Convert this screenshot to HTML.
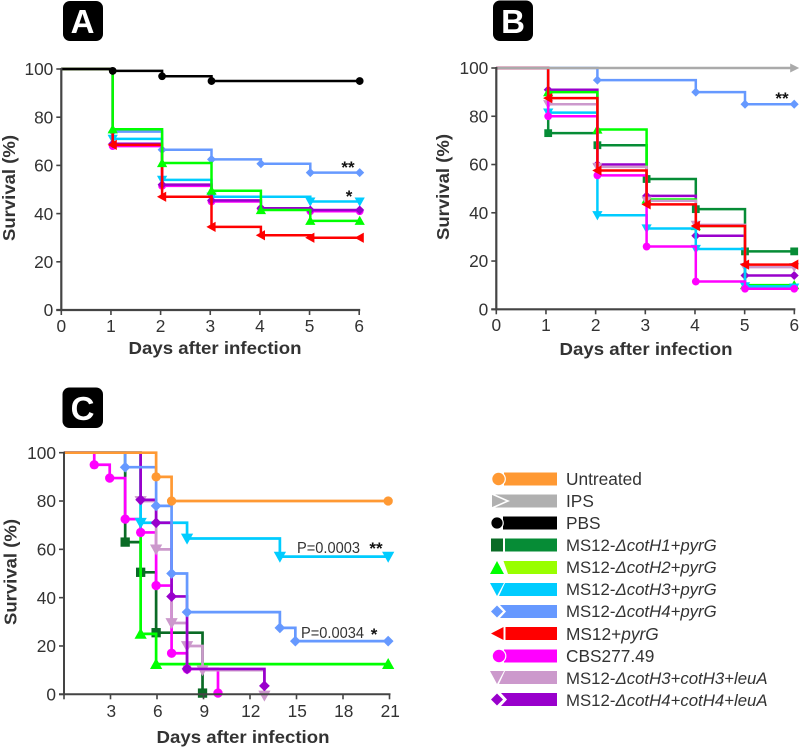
<!DOCTYPE html>
<html lang="en">
<head>
<meta charset="utf-8">
<title>Survival curves</title>
<style>
html,body{margin:0;padding:0;background:#fff;}
svg{display:block;font-family:"Liberation Sans",sans-serif;}
.tick{font-size:17.3px;fill:#333;}
.axt{font-size:17.5px;font-weight:bold;fill:#333;}
.leg{font-size:17.3px;fill:#333;}
.leg-long{font-size:16.8px;}
.note{font-size:15.5px;fill:#333;}
.star{font-size:17px;font-weight:bold;fill:#111;}
.badge{font-size:33px;font-weight:bold;fill:#fff;}
</style>
</head>
<body>
<svg id="fig" xmlns="http://www.w3.org/2000/svg" width="800" height="747" viewBox="0 0 800 747">
  <rect width="800" height="747" fill="#fff"/>
  <g><rect x="63" y="1" width="40" height="40" rx="7" fill="#000"/><text class="badge" x="82.5" y="33" text-anchor="middle">A</text></g>
  <g><rect x="493" y="0.5" width="40" height="40.5" rx="7" fill="#000"/><text class="badge" x="513" y="33" text-anchor="middle">B</text></g>
  <g><rect x="62.5" y="387.5" width="40.5" height="40.5" rx="7" fill="#000"/><text class="badge" x="82.5" y="420" text-anchor="middle">C</text></g>

  <g id="plots"></g>

  <text class="star" x="348" y="173" text-anchor="middle">**</text>
  <text class="star" x="349" y="202" text-anchor="middle">*</text>
  <text class="star" x="782" y="104" text-anchor="middle">**</text>
  <text class="note" x="297" y="553" textLength="63" lengthAdjust="spacingAndGlyphs">P=0.0003</text>
  <text class="star" x="376" y="554" text-anchor="middle">**</text>
  <text class="note" x="301" y="638" textLength="63" lengthAdjust="spacingAndGlyphs">P=0.0034</text>
  <text class="star" x="374" y="640" text-anchor="middle">*</text>

  <g>
    <g><rect x="504" y="472.5" width="53" height="13" fill="#ff9933"/><circle cx="498.5" cy="479" r="6.8" fill="#ff9933" stroke="#fff" stroke-width="1.2"/><text class="leg" x="566" y="485">Untreated</text></g>
    <g><rect x="492" y="494.5" width="65" height="13" fill="#b0b0b0"/><polyline points="492,494 508,501 492,508" fill="none" stroke="#fff" stroke-width="1.6"/><text class="leg" x="566" y="507">IPS</text></g>
    <g><rect x="503" y="516.5" width="54" height="13" fill="#000"/><circle cx="497" cy="523" r="6.2" fill="#000" stroke="#fff" stroke-width="1.2"/><text class="leg" x="566" y="529">PBS</text></g>
    <g><rect x="491" y="538.5" width="12" height="13" fill="#0a6b25"/><rect x="505" y="538.5" width="52" height="13" fill="#068c36"/><text class="leg leg-long" x="566" y="551">MS12-<tspan font-style="italic">ΔcotH1+pyrG</tspan></text></g>
    <g><polygon points="503.5,561 557,561 557,574 508,574" fill="#99ff00"/><polygon points="497,561 504,574 490,574" fill="#00ff00"/><text class="leg leg-long" x="566" y="573">MS12-<tspan font-style="italic">ΔcotH2+pyrG</tspan></text></g>
    <g><polygon points="505,583 557,583 557,596 499,596" fill="#00ccff"/><polygon points="490,583 504,583 497,596" fill="#00ccff"/><text class="leg leg-long" x="566" y="595">MS12-<tspan font-style="italic">ΔcotH3+pyrG</tspan></text></g>
    <g><polygon points="500,605 557,605 557,618 500,618 506,611.5" fill="#6699ff"/><polygon points="491,611.5 497,605.5 503,611.5 497,617.5" fill="#6699ff"/><text class="leg leg-long" x="566" y="617">MS12-<tspan font-style="italic">ΔcotH4+pyrG</tspan></text></g>
    <g><rect x="505.5" y="627" width="51.5" height="13" fill="#ff0000"/><polygon points="491,633.5 503.5,627 503.5,640" fill="#ff0000"/><text class="leg" x="566" y="640">MS12+<tspan font-style="italic">pyrG</tspan></text></g>
    <g><rect x="504" y="649.5" width="53" height="13" fill="#ff00ff"/><circle cx="499" cy="656" r="6.8" fill="#ff00ff" stroke="#fff" stroke-width="1.2"/><text class="leg" x="566" y="662">CBS277.49</text></g>
    <g><polygon points="505,671 557,671 557,684 499,684" fill="#cc99cc"/><polygon points="490,671 504,671 497,684" fill="#cc99cc"/><text class="leg leg-long" x="566" y="684">MS12-<tspan font-style="italic">ΔcotH3+cotH3+leuA</tspan></text></g>
    <g><polygon points="501,693 557,693 557,706 501,706 507,699.5" fill="#9900cc"/><polygon points="491,699.5 497,693.5 503,699.5 497,705.5" fill="#9900cc"/><text class="leg leg-long" x="566" y="706">MS12-<tspan font-style="italic">ΔcotH4+cotH4+leuA</tspan></text></g>
  </g>
</svg>
<script>
const yTickLabels = [0, 20, 40, 60, 80, 100];
const abTickLabels = [0, 1, 2, 3, 4, 5, 6];
const cTickLabels = [3, 6, 9, 12, 15, 18, 21];
const xTitle = 'Days after infection';
const yTitle = 'Survival (%)';

const aDays = [1, 2, 3, 4, 5, 6];
const aPbs = [99.2, 97, 95, null, null, 95];
const aH4 = [74, 66.5, 62.5, 60.7, 57, 57];
const aH3 = [71, 54, 47, null, 45, 45];
const aComp4 = [69, 52, 45.5, 42.2, 41.5, 41.5];
const aCbs = [68, 51.5, 45, 42, 41, 41];
const aH2 = [75, 61, 49.5, 41.5, 37, 37];
const aRed = [68.5, 47, 34.5, 31, 30, 30];

const bDays = [1, 2, 3, 4, 5, 6];
const bIps = [null, null, null, null, null, 100];
const bH4 = [null, 95, null, 90, 85, 85];
const bH1 = [73, 68, 54, 41.5, 24, 24];
const bH2 = [90, 74.5, 45.5, 34.5, 10, 10];
const bComp4 = [91, 60, 47, 30.5, 14, 14];
const bComp3 = [85, 59, 45, 35, 17.5, 17.5];
const bH3 = [81.5, 39, 33.5, 25, 9.5, 9];
const bCbs = [80, 55.5, 26, 11.5, 8.5, 8.5];
const bRed = [87.5, 57.5, 43.5, 34.5, 18.5, 18.5];

const cDays = [2, 3, 4, 5, 6, 7, 8, 9, 10, 13, 14, 15, 21];
const cH1 = [null, null, 63, 50.5, 25.5, null, null, 0.5, null, null, null, null, null];
const cH2 = [null, null, null, 25, 12.5, null, null, null, null, null, null, null, 12.5];
const cCbs = [95, 89.5, 72.5, 67, 45, 17, 10.5, null, 0.5, null, null, null, null];
const cComp3 = [null, null, null, 80, 60, 29.5, 20, 10, null, -0.5, null, null, null];
const cH3 = [null, null, null, 71, null, null, 64.5, null, null, null, 57, null, 57];
const cH4 = [null, null, 94, null, 78, 50, 34, null, null, null, 27.5, 22, 22];
const cComp4 = [null, null, null, 80.5, 71, 40.5, 10.5, null, null, 3.5, null, null, null];
const cUntreated = [null, null, null, null, 90, 80, null, null, null, null, null, null, 80];

const NS = 'http://www.w3.org/2000/svg';
const root = document.getElementById('plots');

function mk(parent, tag, attrs) {
  const el = document.createElementNS(NS, tag);
  for (const k in attrs) el.setAttribute(k, attrs[k]);
  parent.appendChild(el);
  return el;
}

function drawMarker(g, shape, cx, cy, r, color) {
  let m;
  if (shape === 'circle') {
    m = mk(g, 'circle', {cx: cx, cy: cy, r: r * 0.95, fill: color});
  } else if (shape === 'square') {
    const h = r * 0.95;
    m = mk(g, 'rect', {x: cx - h, y: cy - h, width: 2 * h, height: 2 * h, fill: color});
  } else {
    const s = r * 1.25;
    const q = r * 1.1;
    const pts = {
      up: [[cx, cy - s], [cx + s, cy + s * 0.8], [cx - s, cy + s * 0.8]],
      down: [[cx, cy + s], [cx + s, cy - s * 0.8], [cx - s, cy - s * 0.8]],
      left: [[cx - s, cy], [cx + s * 0.8, cy - s], [cx + s * 0.8, cy + s]],
      diamond: [[cx, cy - q], [cx + q, cy], [cx, cy + q], [cx - q, cy]]
    }[shape];
    m = mk(g, 'polygon', {points: pts.map(p => p.join(',')).join(' '), fill: color});
  }
  
  
}

function drawPanel(p) {
  const g = mk(root, 'g', {});
  
  
  const xAxis = v => p.ax0 + (v - p.xMin) * p.axPerDay;
  const xLine = v => p.line0 + v * p.linePerDay;
  const y = v => p.y0 + (p.y100 - p.y0) * v / 100;
  const axisColor = '#444';

  p.series.forEach(s => {
    const sg = mk(g, 'g', {});
    
    
    let cur = 100;
    let d = 'M' + xAxis(0) + ' ' + y(100);
    const pts = [];
    p.days.forEach((day, i) => {
      const val = s.values[i];
      if (val === null || val === undefined) return;
      const x = xLine(day);
      d += ' L' + x + ' ' + y(cur) + ' L' + x + ' ' + y(val);
      cur = val;
      pts.push([x, y(val)]);
    });
    const line = mk(sg, 'path', {d: d, fill: 'none', stroke: s.color, 'stroke-width': p.lw, 'stroke-linejoin': 'miter'});
    
    
    if (s.shape === 'arrow') {
      const e = pts[pts.length - 1];
      const tip = mk(sg, 'polygon', {points: (e[0] - 4) + ',' + (e[1] - 4.5) + ' ' + (e[0] + 5) + ',' + e[1] + ' ' + (e[0] - 4) + ',' + (e[1] + 4.5), fill: s.color});
      
      
    } else {
      pts.forEach(q => drawMarker(sg, s.shape, q[0], q[1], p.mr, s.color));
    }
  });

  const axes = mk(g, 'g', {});
  
  

  const yLine = mk(axes, 'line', {x1: xAxis(p.xMin), y1: p.y100 - 1, x2: xAxis(p.xMin), y2: p.y0 + 1, stroke: axisColor, 'stroke-width': p.axw});
  
  
  const xEnd = p.ax0 + (p.xMax - p.xMin) * p.axPerDay;
  const xLineEl = mk(axes, 'line', {x1: xAxis(p.xMin) - 5, y1: p.y0, x2: xEnd + 1, y2: p.y0, stroke: axisColor, 'stroke-width': p.axw});
  
  

  yTickLabels.forEach(v => {
    const t = mk(axes, 'line', {x1: xAxis(p.xMin) - 5, x2: xAxis(p.xMin), y1: y(v), y2: y(v), stroke: axisColor, 'stroke-width': 1.6});
    
    
    const l = mk(axes, 'text', {x: xAxis(p.xMin) - 8, y: y(v) + 6.2, 'text-anchor': 'end', class: 'tick'});
    l.textContent = v;
    
    
  });

  p.ticks.forEach(v => {
    const t = mk(axes, 'line', {x1: xAxis(v), x2: xAxis(v), y1: p.y0, y2: p.y0 + 5, stroke: axisColor, 'stroke-width': 1.6});
    
    
    const l = mk(axes, 'text', {x: xAxis(v) + (p.tickDx || 0), y: p.tickY, 'text-anchor': 'middle', class: 'tick'});
    l.textContent = v;
    
    
  });
  if (p.firstTick) {
    const t0 = mk(axes, 'line', {x1: xAxis(p.xMin), x2: xAxis(p.xMin), y1: p.y0, y2: p.y0 + 5, stroke: axisColor, 'stroke-width': 1.6});
    
    
  }

  const xt = mk(axes, 'text', {x: p.xtX, y: p.xtY, 'text-anchor': 'middle', class: 'axt', textLength: 173, lengthAdjust: 'spacingAndGlyphs'});
  xt.textContent = xTitle;
  
  
  const yt = mk(axes, 'text', {x: 0, y: 0, 'text-anchor': 'middle', class: 'axt', textLength: 106, lengthAdjust: 'spacingAndGlyphs', transform: 'translate(' + p.ytX + ' ' + p.ytY + ') rotate(-90)'});
  yt.textContent = yTitle;
  
  
}

drawPanel({
  name: 'panel-a-chart', days: aDays, ticks: abTickLabels, xMin: 0, xMax: 6,
  ax0: 61.3, axPerDay: 49.65, line0: 63.3, linePerDay: 49.4, y0: 310, y100: 69,
  lw: 2.5, mr: 4.1, axw: 2.2, tickY: 332, xtX: 215, xtY: 354, ytX: 15, ytY: 188,
  series: [
    {name: 'series-coth4-pyrg', values: aH4, color: '#6699ff', shape: 'diamond'},
    {name: 'series-coth3-pyrg', values: aH3, color: '#00ccff', shape: 'down'},
    {name: 'series-cbs277-49', values: aCbs, color: '#ff00ff', shape: 'circle'},
    {name: 'series-coth4-complement', values: aComp4, color: '#9900cc', shape: 'diamond'},
    {name: 'series-ms12-pyrg', values: aRed, color: '#ff0000', shape: 'left'},
    {name: 'series-coth2-pyrg', values: aH2, color: '#00ff00', shape: 'up'},
    {name: 'series-pbs', values: aPbs, color: '#000000', shape: 'circle'}
  ]
});

drawPanel({
  name: 'panel-b-chart', days: bDays, ticks: abTickLabels, xMin: 0, xMax: 6,
  ax0: 496.3, axPerDay: 49.67, line0: 499, linePerDay: 49.2, y0: 309.3, y100: 68,
  lw: 2.5, mr: 4.1, axw: 2.2, tickY: 331, xtX: 646, xtY: 355, ytX: 449, ytY: 187,
  series: [
    {name: 'series-coth4-pyrg', values: bH4, color: '#6699ff', shape: 'diamond'},
    {name: 'series-coth1-pyrg', values: bH1, color: '#068c36', shape: 'square'},
    {name: 'series-coth4-complement', values: bComp4, color: '#9900cc', shape: 'diamond'},
    {name: 'series-coth2-pyrg', values: bH2, color: '#00ff00', shape: 'up'},
    {name: 'series-coth3-complement', values: bComp3, color: '#cc99cc', shape: 'down'},
    {name: 'series-coth3-pyrg', values: bH3, color: '#00ccff', shape: 'down'},
    {name: 'series-cbs277-49', values: bCbs, color: '#ff00ff', shape: 'circle'},
    {name: 'series-ms12-pyrg', values: bRed, color: '#ff0000', shape: 'left'},
    {name: 'series-ips', values: bIps, color: '#aaaaaa', shape: 'arrow'}
  ]
});

drawPanel({
  name: 'panel-c-chart', days: cDays, ticks: cTickLabels, xMin: 0, xMax: 21, firstTick: true,
  ax0: 64, axPerDay: 15.5, line0: 63.3, linePerDay: 15.47, y0: 694.3, y100: 452.7,
  lw: 2.7, mr: 4.9, axw: 2, tickY: 717, tickDx: 0.8, xtX: 243, xtY: 743, ytX: 16.5, ytY: 572,
  series: [
    {name: 'series-coth1-pyrg', values: cH1, color: '#0a6b25', shape: 'square'},
    {name: 'series-coth2-pyrg', values: cH2, color: '#00ff00', shape: 'up'},
    {name: 'series-cbs277-49', values: cCbs, color: '#ff00ff', shape: 'circle'},
    {name: 'series-coth3-complement', values: cComp3, color: '#cc99cc', shape: 'down'},
    {name: 'series-coth3-pyrg', values: cH3, color: '#00ccff', shape: 'down'},
    {name: 'series-coth4-complement', values: cComp4, color: '#9900cc', shape: 'diamond'},
    {name: 'series-coth4-pyrg', values: cH4, color: '#6699ff', shape: 'diamond'},
    {name: 'series-untreated', values: cUntreated, color: '#ff9933', shape: 'circle'}
  ]
});
</script>
</body>
</html>
